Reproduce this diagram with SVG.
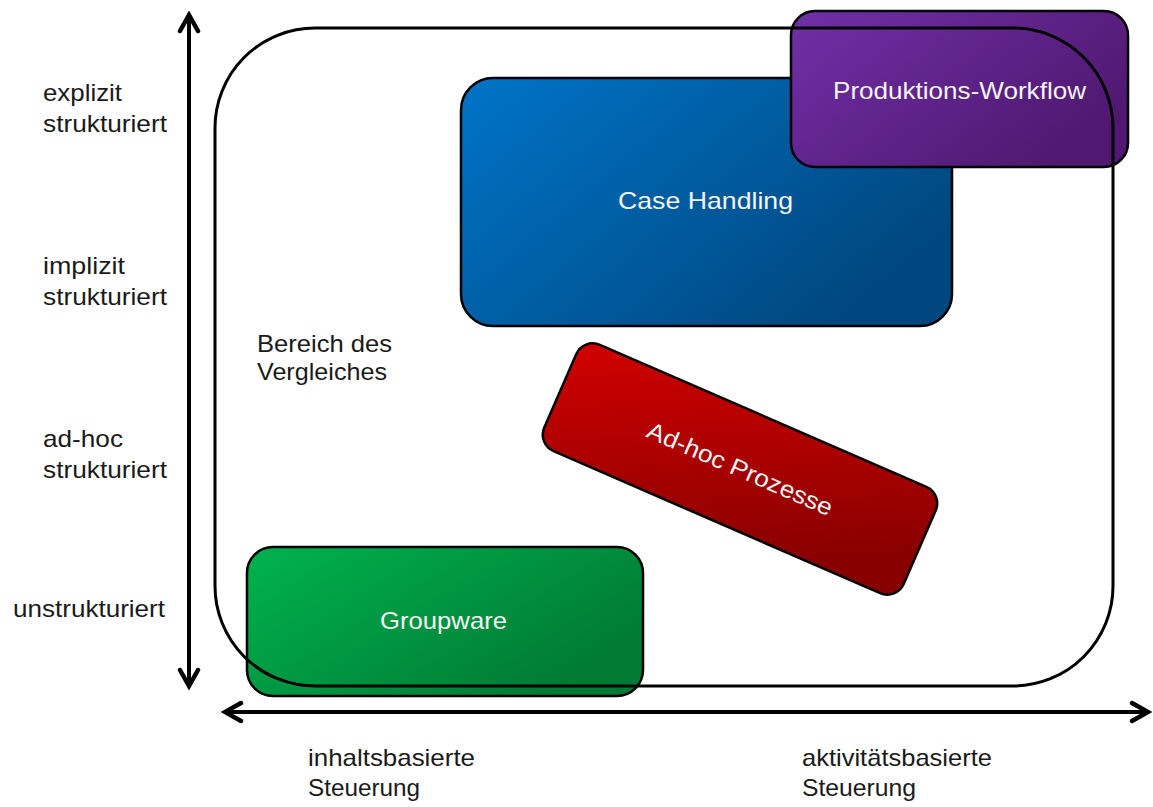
<svg xmlns="http://www.w3.org/2000/svg" width="1153" height="807" viewBox="0 0 1153 807">
  <defs>
    <style>
      .axis-label { font-family: "Liberation Sans", Arial, sans-serif; font-size: 24px; fill: #1a1a1a; }
      .box-label { font-family: "Liberation Sans", Arial, sans-serif; font-size: 24px; fill: #f4f4f4; text-anchor: start; }
      .box { stroke: #000; stroke-width: 2.5; }
      .axis { fill: none; stroke: #000; stroke-width: 4; }
      .frame { fill: none; stroke: #000; stroke-width: 3; }
    </style>
    <linearGradient id="gBlue" x1="0" y1="0" x2="1" y2="0.6">
      <stop offset="0" stop-color="#0074C8"/>
      <stop offset="1" stop-color="#00477F"/>
    </linearGradient>
    <linearGradient id="gPurple" x1="0" y1="0" x2="1" y2="0.6">
      <stop offset="0" stop-color="#7030A8"/>
      <stop offset="1" stop-color="#501870"/>
    </linearGradient>
    <linearGradient id="gRed" x1="0" y1="0" x2="1" y2="0.6">
      <stop offset="0" stop-color="#D20000"/>
      <stop offset="1" stop-color="#880000"/>
    </linearGradient>
    <linearGradient id="gGreen" x1="0" y1="0" x2="1" y2="0.6">
      <stop offset="0" stop-color="#00B34E"/>
      <stop offset="1" stop-color="#007A34"/>
    </linearGradient>
    <marker id="openArrow" markerUnits="userSpaceOnUse" viewBox="-20 -12 24 24" refX="0" refY="0" markerWidth="24" markerHeight="24" orient="auto-start-reverse">
      <path d="M -16 -9 L 0 0 L -16 9" fill="none" stroke="#000" stroke-width="4.5" stroke-linecap="round" stroke-linejoin="miter"/>
    </marker>
  </defs>

  <rect width="1153" height="807" fill="#ffffff"/>

  <!-- Axes -->
  <g id="connectors">
    <line class="axis" x1="189" y1="686" x2="189" y2="15" marker-start="url(#openArrow)" marker-end="url(#openArrow)"/>
    <line class="axis" x1="225" y1="712" x2="1148" y2="712" marker-start="url(#openArrow)" marker-end="url(#openArrow)"/>
  </g>

  <!-- Axis labels -->
  <g id="y-labels">
    <text class="axis-label" x="43" y="101" textLength="79" lengthAdjust="spacingAndGlyphs">explizit</text>
    <text class="axis-label" x="43" y="132" textLength="124" lengthAdjust="spacingAndGlyphs">strukturiert</text>
    <text class="axis-label" x="43" y="274" textLength="82" lengthAdjust="spacingAndGlyphs">implizit</text>
    <text class="axis-label" x="43" y="305" textLength="124" lengthAdjust="spacingAndGlyphs">strukturiert</text>
    <text class="axis-label" x="43" y="447" textLength="80" lengthAdjust="spacingAndGlyphs">ad-hoc</text>
    <text class="axis-label" x="43" y="478" textLength="124" lengthAdjust="spacingAndGlyphs">strukturiert</text>
    <text class="axis-label" x="13" y="617" textLength="152" lengthAdjust="spacingAndGlyphs">unstrukturiert</text>
  </g>
  <g id="x-labels">
    <text class="axis-label" x="308" y="766" textLength="167" lengthAdjust="spacingAndGlyphs">inhaltsbasierte</text>
    <text class="axis-label" x="308" y="796" textLength="112" lengthAdjust="spacingAndGlyphs">Steuerung</text>
    <text class="axis-label" x="802" y="766" textLength="190" lengthAdjust="spacingAndGlyphs">aktivitätsbasierte</text>
    <text class="axis-label" x="802" y="796" textLength="114" lengthAdjust="spacingAndGlyphs">Steuerung</text>
  </g>

  <!-- Process types -->
  <g id="case-handling">
    <rect class="box" x="461" y="78" width="491" height="248" rx="32" fill="url(#gBlue)"/>
    <text class="box-label" x="618" y="209" textLength="175" lengthAdjust="spacingAndGlyphs">Case Handling</text>
  </g>

  <g id="produktions-workflow">
    <rect class="box" x="791" y="11" width="337" height="156" rx="24" fill="url(#gPurple)"/>
    <text class="box-label" x="833" y="99" textLength="253" lengthAdjust="spacingAndGlyphs">Produktions-Workflow</text>
  </g>

  <g id="ad-hoc-prozesse" transform="translate(740 469) rotate(23.5)">
    <rect class="box" x="-196" y="-58" width="392" height="116" rx="18" fill="url(#gRed)"/>
    <text class="box-label" x="0" y="8" style="text-anchor:middle" textLength="200" lengthAdjust="spacingAndGlyphs">Ad-hoc Prozesse</text>
  </g>

  <g id="groupware">
    <rect class="box" x="247" y="547" width="396" height="149" rx="26" fill="url(#gGreen)"/>
    <text class="box-label" x="380" y="629" textLength="127" lengthAdjust="spacingAndGlyphs">Groupware</text>
  </g>

  <!-- Comparison area outline, drawn over the boxes -->
  <g id="comparison-area">
    <rect class="frame" x="215" y="28" width="898" height="658" rx="100"/>
    <text class="axis-label" x="257" y="352" textLength="135" lengthAdjust="spacingAndGlyphs">Bereich des</text>
    <text class="axis-label" x="257" y="380" textLength="130" lengthAdjust="spacingAndGlyphs">Vergleiches</text>
  </g>
</svg>
